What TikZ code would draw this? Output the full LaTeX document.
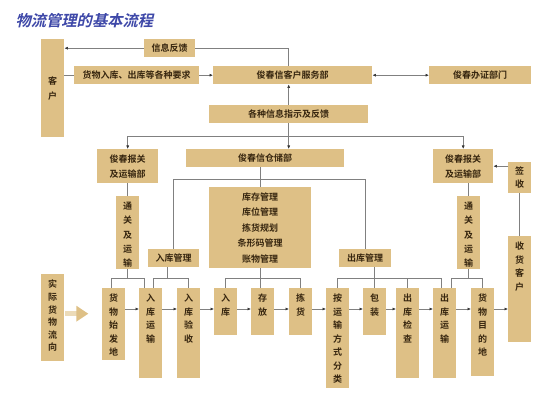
\documentclass[tikz,border=0pt]{standalone}
\usepackage{fontspec}
\usepackage{xcolor}
\usepackage{tikz}
\usetikzlibrary{arrows.meta, calc}
\setmainfont{Noto Sans CJK SC}[BoldFont={Noto Sans CJK SC Bold}]
\newfontfamily\titlefont{Noto Sans CJK SC Bold}[FakeSlant=0.22]

\definecolor{kuang}{RGB}{222,192,134}
\definecolor{kuangqian}{RGB}{236,219,184}
\definecolor{zi}{RGB}{55,38,15}
\definecolor{xian}{RGB}{128,128,128}
\definecolor{biaoti}{RGB}{62,72,168}

% 세로 글자 칸
\newcommand{\shulie}[2]{\parbox[t][#2][t]{16pt}{\centering\vspace*{6pt}#1}}

\begin{document}
\begin{tikzpicture}[x=1pt, y=-1pt]
        % 스타일 정의
        \tikzset{kuai/.style={fill=kuang, inner sep=0pt, anchor=north west, text=zi, align=center, font=\bfseries\fontsize{9}{15}\selectfont}}
        \tikzset{wh/.style 2 args={minimum width=#1pt, minimum height=#2pt}}
        \tikzset{shu/.style={kuai, minimum width=23pt, font=\bfseries\fontsize{9}{13.5}\selectfont}}
        \tikzset{xian/.style={draw=xian, line width=0.6pt}}
        \tikzset{jt/.style={xian, -{Latex[length=3.5pt, width=3pt, color=black!80]}}}
        \tikzset{shuangjt/.style={xian, {Latex[length=3.5pt, width=3pt, color=black!80]}-{Latex[length=3.5pt, width=3pt, color=black!80]}}}

        \useasboundingbox (0,0) rectangle (555,409);

        % 1. 제목
        \node[anchor=west, text=biaoti, font=\titlefont\fontsize{15.3}{17}\selectfont] (bt) at (12,21) {物流管理的基本流程};

        % 2. 위쪽 상자들
        \node[kuai, wh={23}{98}] (kh) at (41,39) {客\\户};
        \node[kuai, wh={51}{18}] (xxfk) at (144,39) {信息反馈};
        \node[kuai, wh={125}{18}] (yq) at (74,66) {货物入库、出库等各种要求};
        \node[kuai, wh={159}{18}] (kf) at (213,66) {俊春信客户服务部};
        \node[kuai, wh={102}{18}] (bz) at (429,66) {俊春办证部门};
        \node[kuai, wh={159}{18}] (zs) at (209,105) {各种信息指示及反馈};
        \node[kuai, wh={61}{34}] (bg1) at (97,149) {俊春报关\\及运输部};
        \node[kuai, wh={158}{18}] (cc) at (186,149) {俊春信仓储部};
        \node[kuai, wh={60}{34}] (bg2) at (433,149) {俊春报关\\及运输部};
        \node[kuai, wh={23}{31}, font=\bfseries\fontsize{9}{13}\selectfont] (qs) at (508,162) {签\\收};
        \node[kuai, wh={102}{81}, font=\bfseries\fontsize{9}{15.5}\selectfont] (gl) at (209,187) {库存管理\\库位管理\\拣货规划\\条形码管理\\账物管理};
        \node[kuai, wh={51}{18}] (rkgl) at (148,249) {入库管理};
        \node[kuai, wh={52}{18}] (ckgl) at (339,249) {出库管理};
        \node[shu, font=\bfseries\fontsize{9}{14.3}\selectfont] (tg1) at (116,196) {\shulie{通\\关\\及\\运\\输}{73pt}};
        \node[shu, font=\bfseries\fontsize{9}{14.3}\selectfont] (tg2) at (457,196) {\shulie{通\\关\\及\\运\\输}{73pt}};
        \node[shu] (shkh) at (508,236) {\shulie{收\\货\\客\\户}{106pt}};

        % 3. 아래 줄
        \node[shu, font=\bfseries\fontsize{9}{12.6}\selectfont] (sjlx) at (41,274) {\shulie{实\\际\\货\\物\\流\\向}{87pt}};
        \node[shu] (sf) at (102,288) {\shulie{货\\物\\始\\发\\地}{72pt}};
        \node[shu] (rkys) at (139,288) {\shulie{入\\库\\运\\输}{90pt}};
        \node[shu] (rkys2) at (177,288) {\shulie{入\\库\\验\\收}{90pt}};
        \node[shu] (rk) at (214,288) {\shulie{入\\库}{47pt}};
        \node[shu] (cf) at (251,288) {\shulie{存\\放}{47pt}};
        \node[shu] (jh) at (289,288) {\shulie{拣\\货}{47pt}};
        \node[shu] (fl) at (326,288) {\shulie{按\\运\\输\\方\\式\\分\\类}{100pt}};
        \node[shu] (bzh) at (363,288) {\shulie{包\\装}{47pt}};
        \node[shu] (jc) at (396,288) {\shulie{出\\库\\检\\查}{90pt}};
        \node[shu] (ys) at (433,288) {\shulie{出\\库\\运\\输}{90pt}};
        \node[shu] (md) at (471,288) {\shulie{货\\物\\目\\的\\地}{88pt}};

        % 4. 위쪽 연결선
        \draw[xian] (zs.north |- kf.north) |- (xxfk.east);
        \draw[jt] (xxfk.west) -- (xxfk.west -| kh.east);
        \draw[xian] (kh.east |- yq.west) -- (yq.west);
        \draw[jt] (yq.east) -- (kf.west);
        \draw[shuangjt] (kf.east) -- (bz.west);
        \draw[jt] (zs.north) -- (zs.north |- kf.south);

        \coordinate (fz) at ($(zs.south)!0.5!(cc.north)$);
        \draw[jt] (zs.south) -- (zs.south |- cc.north);
        \draw[jt] (fz) -| (bg1.north);
        \draw[jt] (fz) -| (bg2.north);

        \draw[jt] (qs.west |- bg2.east) -- (bg2.east);
        \draw[xian] (qs.south) -- (shkh.north);
        \draw[xian] (tg1.north |- bg1.south) -- (tg1.north);
        \draw[xian] (tg2.north |- bg2.south) -- (tg2.north);

        \coordinate (cz) at ($(cc.south)!0.6!(gl.north)$);
        \draw[xian] (gl.north |- cc.south) -- (gl.north);
        \draw[xian] (rkgl.north) |- (cz) -| (ckgl.north);

        % 5. 아래 줄로 가는 선
        \coordinate (bus) at (0,278);
        \draw[xian] (tg1.south) -- (tg1.south |- bus);
        \draw[xian] ([xshift=-2pt]sf.north) -- ++(0,-10) -| ([xshift=-6pt]rkys.north);
        \draw[xian] ([xshift=-6pt]rkgl.south) -- ([xshift=-6pt]rkgl.south |- bus);
        \draw[xian] ([xshift=3pt]rkys.north) -- ++(0,-10) -| (rkys2.north);
        \draw[xian] (gl.south) -- (gl.south |- cf.north);
        \draw[xian] (rk.north) -- ++(0,-10) -| (jh.north);
        \draw[xian] (ckgl.south -| bzh.north) -- (bzh.north);
        \draw[xian] (fl.north) -- ++(0,-10) -| ([xshift=-3pt]ys.north);
        \draw[xian] (jc.north) -- (jc.north |- bus);
        \draw[xian] (tg2.south) -- (tg2.south |- bus);
        \draw[xian] ([xshift=7pt]ys.north) -- ++(0,-10) -| (md.north);

        % 6. 흐름 화살표
        \foreach \a/\b in {sf/rkys, rkys/rkys2, rkys2/rk, rk/cf, cf/jh, jh/fl, fl/bzh, bzh/jc, jc/ys, ys/md, md/shkh}{
            \path ([yshift=-21pt]\a.north east) coordinate (p);
            \draw[jt] (p) -- (p -| \b.west);
        }
        \path (sjlx.east) ++(1,-4) coordinate (q);
        \draw[line width=5pt, kuangqian, -{Triangle[length=12pt, width=15pt, color=kuang]}] (q) -- ++(23,0);
    \end{tikzpicture}
\end{document}
